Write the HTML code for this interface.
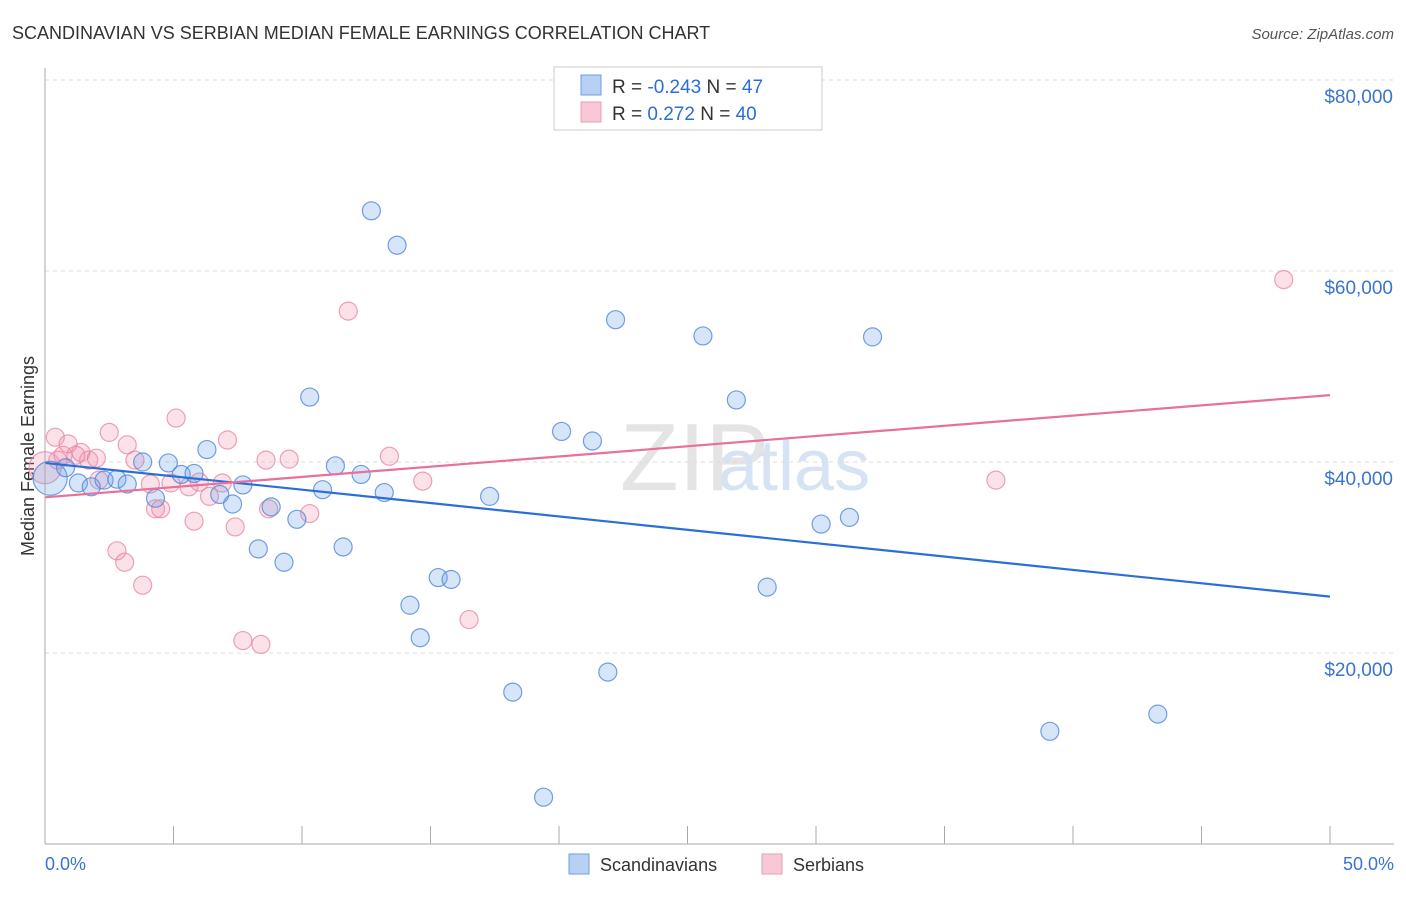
<!DOCTYPE html>
<html><head><meta charset="utf-8"><style>
body{margin:0;background:#fff;font-family:"Liberation Sans",sans-serif}
svg text{font-family:"Liberation Sans",sans-serif}
</style></head><body>
<svg id="c" width="1406" height="892">
<text x="12" y="39" font-size="18" fill="#333">SCANDINAVIAN VS SERBIAN MEDIAN FEMALE EARNINGS CORRELATION CHART</text>
<text x="1394" y="39" font-size="15" fill="#555" text-anchor="end" font-style="italic">Source: ZipAtlas.com</text>
<text x="620" y="490" font-size="96" fill="#e4e4e4" font-family="Liberation Serif">ZIP</text>
<text x="718" y="490" font-size="72" fill="#d6e3f5">atlas</text>
<text transform="translate(34,456) rotate(-90)" font-size="18" fill="#333" text-anchor="middle">Median Female Earnings</text>
<g id="grid"></g><g id="pts"></g><g id="lines"></g>
<line x1="45" y1="68" x2="45" y2="844" stroke="#aaa"/>
<line x1="45" y1="844" x2="1394" y2="844" stroke="#aaa"/>
<text x="45" y="870" font-size="18" fill="#3b73d1">0.0%</text>
<text x="1394" y="870" font-size="18" fill="#3b73d1" text-anchor="end">50.0%</text>
<g>
<rect x="554" y="67" width="268" height="63" fill="#fff" stroke="#ccc"/>
<rect x="581" y="75" width="20" height="20" fill="#b8d0f4" stroke="#6e9ee6"/>
<rect x="581" y="102" width="20" height="20" fill="#f9c8d6" stroke="#ec9cb4"/>
<text x="612" y="93" font-size="19" fill="#333">R = <tspan fill="#2b6fd6">-0.243</tspan>   N = <tspan fill="#2b6fd6">47</tspan></text>
<text x="612" y="120" font-size="19" fill="#333">R =  <tspan fill="#2b6fd6"> 0.272</tspan>   N = <tspan fill="#2b6fd6">40</tspan></text>
</g>
<g>
<rect x="569" y="854" width="20" height="20" fill="#b8d0f4" stroke="#6e9ee6"/>
<text x="600" y="871" font-size="18" fill="#333">Scandinavians</text>
<rect x="762" y="854" width="20" height="20" fill="#f9c8d6" stroke="#ec9cb4"/>
<text x="793" y="871" font-size="18" fill="#333">Serbians</text>
</g>
</svg>
<script>
const yTicks=[20000,40000,60000,80000];
const yTickLabels=["$20,000","$40,000","$60,000","$80,000"];
const xTicks=[5,10,15,20,25,30,35,40,45,50];
const blueX=[0.2,0.8,1.3,1.8,2.3,2.8,3.2,3.8,4.3,4.8,5.3,5.8,6.3,6.8,7.3,7.7,8.3,8.8,9.3,9.8,10.3,10.8,11.3,11.6,12.3,12.7,13.2,13.7,14.2,14.6,15.3,15.8,17.3,18.2,19.4,20.1,21.3,21.9,22.2,25.6,26.9,28.1,30.2,31.3,32.2,39.1,43.3];
const blueY=[38.3,39.4,37.8,37.4,38.1,38.2,37.7,40.0,36.2,39.9,38.7,38.8,41.3,36.6,35.6,37.6,30.9,35.3,29.5,34.0,46.8,37.1,39.6,31.1,38.7,66.3,36.8,62.7,25.0,21.6,27.9,27.7,36.4,15.9,4.9,43.2,42.2,18.0,54.9,53.2,46.5,26.9,33.5,34.2,53.1,11.8,13.6];
const pinkX=[0,0.4,0.7,0.9,1.4,1.7,2.0,2.5,2.8,3.1,3.2,3.5,3.8,4.1,4.3,4.5,5.1,5.6,5.8,6.0,6.4,7.1,7.4,7.7,8.4,8.6,8.7,9.5,10.3,11.8,13.4,14.7,16.5,37.0,48.2,2.1,4.9,6.9,0.5,1.2];
const pinkY=[39.4,42.6,40.7,41.9,41.0,40.2,40.4,43.1,30.7,29.5,41.8,40.2,27.1,37.7,35.1,35.1,44.6,37.4,33.8,37.9,36.4,42.3,33.2,21.3,20.9,40.2,35.1,40.3,34.6,55.8,40.6,38.0,23.5,38.1,59.1,38.1,37.8,37.8,40.2,40.7];
const blueTrend=[39.9,25.9];
const pinkTrend=[36.3,47.0];
const NS="http://www.w3.org/2000/svg";
const sx=v=>45+v/50*1285;
const sy=v=>844-v/20000*191;
function mk(t,a,p){const e=document.createElementNS(NS,t);for(const k in a)e.setAttribute(k,a[k]);p.appendChild(e);return e;}
const grid=document.getElementById('grid');
yTicks.forEach((v,i)=>{
 const l=mk('line',{x1:45,x2:1394,y1:sy(v),y2:sy(v),stroke:'#ddd','stroke-dasharray':'4,4'},grid);
 
 
 const t=mk('text',{x:1393,y:sy(v)+23,'font-size':19,fill:'#3b73d1','text-anchor':'end'},grid);
 t.textContent=yTickLabels[i];
 
 
});
xTicks.forEach(v=>{
 const l=mk('line',{x1:sx(v),x2:sx(v),y1:826,y2:844,stroke:'#aaa'},grid);
 
 
});
const pts=document.getElementById('pts');
pinkX.forEach((x,i)=>{
 const c=mk('circle',{cx:sx(x),cy:sy(pinkY[i]*1000),r:i==0?16:9,fill:'rgba(240,150,175,0.28)',stroke:'rgba(232,130,160,0.75)','stroke-width':1.2},pts);
 
 
});
blueX.forEach((x,i)=>{
 const c=mk('circle',{cx:sx(x),cy:sy(blueY[i]*1000),r:i==0?17:9,fill:'rgba(110,160,230,0.28)',stroke:'rgba(80,135,220,0.8)','stroke-width':1.2},pts);
 
 
});
const lines=document.getElementById('lines');
const bl=mk('line',{x1:sx(0),x2:sx(50),y1:sy(blueTrend[0]*1000),y2:sy(blueTrend[1]*1000),stroke:'#2b6fd6','stroke-width':2.2},lines);


const pl=mk('line',{x1:sx(0),x2:sx(50),y1:sy(pinkTrend[0]*1000),y2:sy(pinkTrend[1]*1000),stroke:'#e8709a','stroke-width':2.2},lines);


</script>
</body></html>
